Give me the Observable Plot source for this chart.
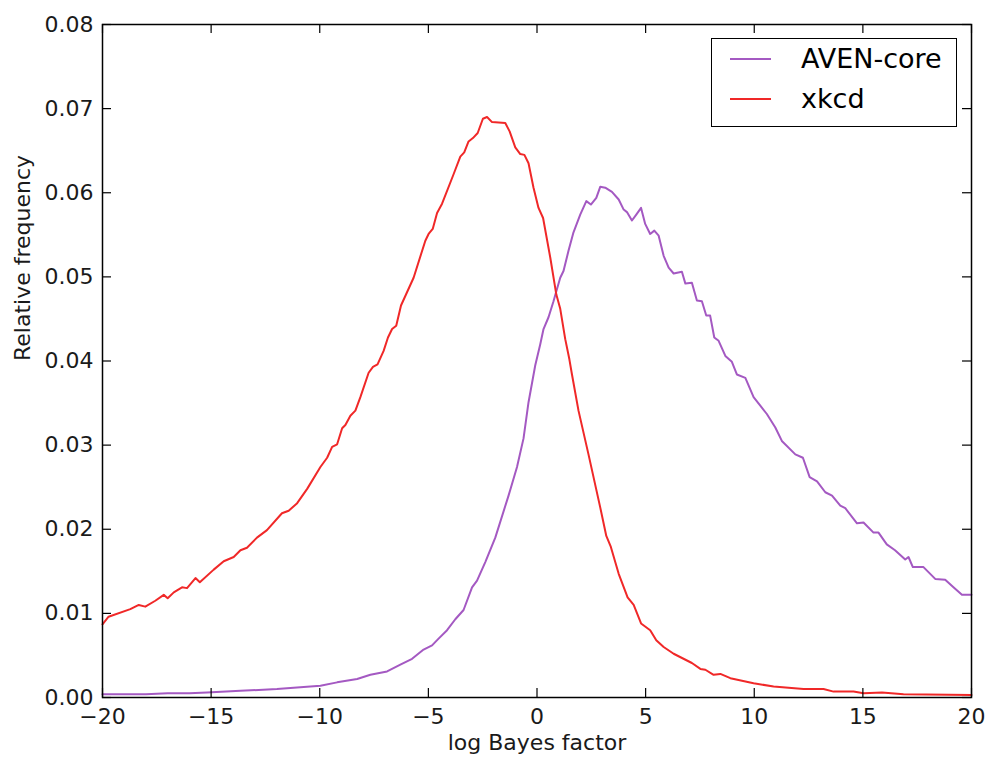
<!DOCTYPE html>
<html>
<head>
<meta charset="utf-8">
<script src="https://cdn.jsdelivr.net/npm/d3@7"></script>
<script src="https://cdn.jsdelivr.net/npm/@observablehq/plot@0.6"></script>
<style>
  html, body { margin: 0; padding: 0; background: #fff; }
  #wrap { position: relative; width: 992px; height: 761px; font-family: "DejaVu Sans", sans-serif; }
  #legend { position: absolute; left: 711px; top: 38px; width: 246px; height: 89px; border: 1.5px solid #000; background: #fff; box-sizing: border-box; }
  .item { position: absolute; left: 0; display: flex; align-items: center; font-size: 27px; color: #000; }
  .swatch { width: 41px; height: 0; border-top: 2px solid; margin-left: 18px; margin-right: 30px; }
</style>
</head>
<body>
<div id="wrap"></div>
<script>
const xTicks = [-20, -15, -10, -5, 0, 5, 10, 15, 20];
const yTicks = [0, 0.01, 0.02, 0.03, 0.04, 0.05, 0.06, 0.07, 0.08];
const seriesNames = ["AVEN-core", "xkcd"];
const seriesColors = ["#a459c2", "#f02828"];
const xLabel = "log Bayes factor";
const yLabel = "Relative frequency";

const avenX = [-20,-19,-18,-17,-16,-15.19,-13.65,-11.97,-9.97,-9.2,-8.28,-7.67,-6.9,-6.29,-5.75,-5.22,-4.83,-4.53,-4.14,-3.76,-3.38,-2.99,-2.76,-2.38,-1.92,-1.31,-0.92,-0.62,-0.39,-0.08,0.15,0.3,0.53,0.76,0.89,1.07,1.22,1.45,1.68,1.99,2.27,2.48,2.73,2.91,3.14,3.45,3.76,3.99,4.14,4.37,4.57,4.79,4.98,5.21,5.4,5.6,5.83,6.06,6.29,6.67,6.83,7.13,7.36,7.59,7.79,7.97,8.16,8.36,8.67,8.97,9.2,9.59,9.97,10.58,10.97,11.27,11.89,12.24,12.55,12.89,13.27,13.58,13.96,14.19,14.73,15.03,15.49,15.72,16.1,16.48,16.95,17.1,17.3,17.79,18.33,18.79,19.17,19.56,20];
const avenY = [0.0004,0.0004,0.0004,0.0005,0.0005,0.0006,0.0008,0.0010,0.0014,0.0018,0.0022,0.0027,0.0031,0.0039,0.0046,0.0057,0.0062,0.0070,0.0080,0.0093,0.0104,0.0131,0.0139,0.0161,0.0190,0.0240,0.0274,0.0308,0.0351,0.0395,0.0420,0.0438,0.0452,0.0471,0.0483,0.0499,0.0507,0.0531,0.0553,0.0574,0.0590,0.0586,0.0594,0.0607,0.0606,0.0601,0.0592,0.0580,0.0577,0.0567,0.0574,0.0582,0.0563,0.0551,0.0555,0.0549,0.0525,0.0511,0.0504,0.0506,0.0492,0.0493,0.0472,0.0471,0.0454,0.0454,0.0428,0.0424,0.0406,0.0399,0.0384,0.0380,0.0357,0.0337,0.0321,0.0305,0.0289,0.0285,0.0262,0.0257,0.0244,0.0240,0.0228,0.0225,0.0207,0.0208,0.0196,0.0196,0.0182,0.0175,0.0164,0.0167,0.0155,0.0155,0.0141,0.0140,0.0131,0.0122,0.0122];

const xkcdX = [-20,-19.72,-18.72,-18.33,-18.03,-17.57,-17.18,-17,-16.72,-16.34,-16.11,-15.72,-15.52,-14.88,-14.42,-13.96,-13.65,-13.35,-12.89,-12.43,-11.74,-11.43,-11.04,-10.58,-9.97,-9.66,-9.43,-9.2,-8.97,-8.82,-8.59,-8.36,-8.13,-7.75,-7.55,-7.34,-7.06,-6.86,-6.67,-6.48,-6.26,-5.68,-5.14,-4.99,-4.8,-4.6,-4.37,-3.84,-3.53,-3.35,-3.15,-2.95,-2.73,-2.49,-2.3,-2.07,-1.46,-1.26,-1,-0.77,-0.58,-0.39,-0.16,0.07,0.28,0.61,0.89,1.07,1.3,1.49,1.61,1.91,2.37,2.91,3.19,3.4,3.76,4.17,4.45,4.79,5.21,5.49,5.83,6.29,7.13,7.52,7.75,8.13,8.44,8.9,9.97,10.89,12.27,13.19,13.65,14.57,15.03,15.88,16.87,20];
const xkcdY = [0.0087,0.0096,0.0105,0.0110,0.0108,0.0115,0.0122,0.0118,0.0125,0.0131,0.0130,0.0142,0.0137,0.0152,0.0162,0.0167,0.0175,0.0178,0.0190,0.0199,0.0219,0.0222,0.0231,0.0248,0.0274,0.0285,0.0298,0.0301,0.0320,0.0324,0.0335,0.0341,0.0357,0.0386,0.0393,0.0396,0.0412,0.0428,0.0438,0.0442,0.0466,0.0499,0.0543,0.0551,0.0557,0.0576,0.0587,0.0622,0.0643,0.0648,0.0661,0.0665,0.0671,0.0688,0.0690,0.0684,0.0683,0.0673,0.0654,0.0646,0.0645,0.0635,0.0606,0.0582,0.0570,0.0523,0.0479,0.0462,0.0426,0.0402,0.0384,0.0341,0.0289,0.0226,0.0192,0.0179,0.0147,0.0119,0.0110,0.0088,0.0080,0.0068,0.0060,0.0052,0.0041,0.0034,0.0033,0.0027,0.0028,0.0023,0.0017,0.0013,0.0010,0.0010,0.0007,0.0007,0.0005,0.0006,0.0004,0.0003];

const data = [
  ...avenX.map((x, i) => ({x, y: avenY[i], s: seriesNames[0]})),
  ...xkcdX.map((x, i) => ({x, y: xkcdY[i], s: seriesNames[1]}))
];

const W = 992, H = 761, mT = 24, mR = 21, mB = 64, mL = 102;
const innerH = H - mT - mB, innerW = W - mL - mR, tick = 9;

const chart = Plot.plot({
  width: W, height: H,
  marginTop: mT, marginRight: mR, marginBottom: mB, marginLeft: mL,
  style: {fontFamily: "'DejaVu Sans', sans-serif", fontSize: "22px", color: "#000", background: "#fff"},
  x: {domain: [-20, 20]},
  y: {domain: [0, 0.08]},
  color: {domain: seriesNames, range: seriesColors},
  marks: [
    Plot.line(data, {x: "x", y: "y", z: "s", stroke: "s", strokeWidth: 2}),
    Plot.tickX(xTicks, {x: d => d, insetTop: innerH - tick, stroke: "#000", strokeWidth: 1.2}),
    Plot.tickX(xTicks, {x: d => d, insetBottom: innerH - tick, stroke: "#000", strokeWidth: 1.2}),
    Plot.tickY(yTicks, {y: d => d, insetRight: innerW - tick, stroke: "#000", strokeWidth: 1.2}),
    Plot.tickY(yTicks, {y: d => d, insetLeft: innerW - tick, stroke: "#000", strokeWidth: 1.2}),
    Plot.axisX(xTicks, {tickSize: 0, tickPadding: 11, label: null, tickFormat: d => d < 0 ? "\u2212" + Math.abs(d) : String(d), fill: "#1a1a1a"}),
    Plot.axisY(yTicks, {tickSize: 0, tickPadding: 9, label: null, tickFormat: d3.format(".2f"), fill: "#1a1a1a"}),
    Plot.text([xLabel], {frameAnchor: "bottom", dy: 52, text: d => d, fill: "#1a1a1a"}),
    Plot.text([yLabel], {frameAnchor: "left", dx: -80, rotate: -90, text: d => d, fill: "#1a1a1a"}),
    Plot.frame({stroke: "#000", strokeWidth: 1.5})
  ]
});

const wrap = document.getElementById("wrap");
wrap.appendChild(chart);

const legend = document.createElement("div");
legend.id = "legend";
seriesNames.forEach((name, i) => {
  const item = document.createElement("div");
  item.className = "item";
  item.style.top = (i === 0 ? 4 : 44) + "px";
  const sw = document.createElement("span");
  sw.className = "swatch";
  sw.style.borderTopColor = seriesColors[i];
  const t = document.createElement("span");
  t.textContent = name;
  item.appendChild(sw);
  item.appendChild(t);
  legend.appendChild(item);
});
wrap.appendChild(legend);
</script>
</body>
</html>
